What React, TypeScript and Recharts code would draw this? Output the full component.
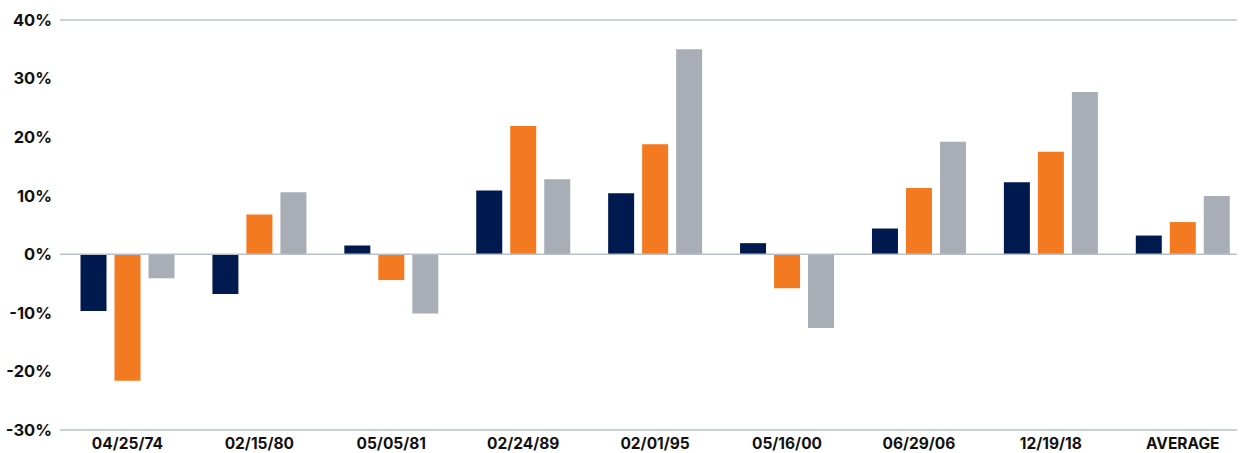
import { BarChart, Bar, XAxis, YAxis, ReferenceLine } from 'recharts'

const dates = ['04/25/74', '02/15/80', '05/05/81', '02/24/89', '02/01/95', '05/16/00', '06/29/06', '12/19/18', 'AVERAGE']
const seriesA = [-9.7, -6.8, 1.5, 10.9, 10.4, 1.9, 4.4, 12.3, 3.2]
const seriesB = [-21.6, 6.8, -4.4, 21.9, 18.8, -5.8, 11.3, 17.5, 5.5]
const seriesC = [-4.1, 10.6, -10.1, 12.8, 35.0, -12.6, 19.2, 27.7, 9.95]
const yTicks = [-30, -20, -10, 0, 10, 20, 30, 40]
const gridLevels = [40, 0, -30]

const data = dates.map((d, i) => ({ d, a: seriesA[i], b: seriesB[i], c: seriesC[i] }))

const font = 'Inter, "Noto Sans", sans-serif'

export default function App() {
  // pinned to the window corner so the y labels have room on the left
  return (
    <div style={{ position: 'absolute', left: 0, top: 0, width: 1243, height: 453, fontFamily: font }}>
      <BarChart
        width={1243}
        height={453}
        data={data}
        margin={{ top: 20, right: 6, left: 0, bottom: 0 }}
        barSize={26}
        barGap={8}
      >
        {gridLevels.map((v) => (
          <ReferenceLine key={v} y={v} stroke="#BAC0C9" strokeWidth={1.6} />
        ))}
        <XAxis
          dataKey="d"
          axisLine={false}
          tickLine={false}
          height={23}
          tickMargin={2}
          padding={{ left: 1.5, right: -11.7 }}
          interval={0}
          tick={{ fill: '#111', fontSize: 15.5, fontWeight: 700, fontFamily: font }}
        />
        <YAxis
          domain={[-30, 40]}
          ticks={yTicks}
          width={60}
          axisLine={false}
          tickLine={false}
          tickFormatter={(v) => `${v}%`}
          tick={{ fill: '#111', fontSize: 16.5, fontWeight: 700, fontFamily: font }}
        />
        <Bar dataKey="a" fill="#001A4F" isAnimationActive={false} />
        <Bar dataKey="b" fill="#F47A22" isAnimationActive={false} />
        <Bar dataKey="c" fill="#A9ADB5" isAnimationActive={false} />
      </BarChart>
    </div>
  )
}
